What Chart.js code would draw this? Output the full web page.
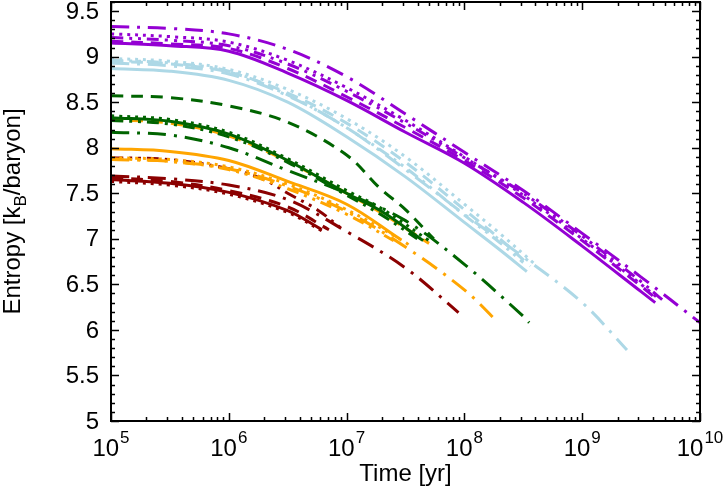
<!DOCTYPE html>
<html>
<head>
<meta charset="utf-8">
<script src="https://cdn.jsdelivr.net/npm/chart.js@4.4.1/dist/chart.umd.min.js"></script>
<style>
  html, body { margin: 0; padding: 0; background: #fff; }
  #wrap { width: 728px; height: 496px; }
</style>
</head>
<body>
<div id="wrap"><canvas id="c" width="728" height="496"></canvas></div>
<script>
// points are [log10(time / yr), entropy]
const violetSolid   = [[5,9.15],[5.5,9.12],[6,9.06],[6.5,8.82],[7,8.52],[7.5,8.17],[8,7.83],[8.5,7.4],[9,6.92],[9.5,6.42],[9.62,6.30]];
const violetDashed  = [[5,9.17],[5.5,9.14],[6,9.09],[6.5,8.87],[7,8.56],[7.5,8.22],[8,7.86],[8.5,7.45],[9,6.98],[9.5,6.48],[9.64,6.33]];
const violetDotted  = [[5,9.25],[5.5,9.22],[6,9.16],[6.5,8.96],[7,8.66],[7.5,8.3],[8,7.9],[8.5,7.48],[9,7.0],[9.5,6.5],[9.66,6.33]];
const violetDDD     = [[5,9.21],[5.5,9.18],[6,9.12],[6.5,8.92],[7,8.62],[7.5,8.27],[8,7.89],[8.5,7.5],[9,7.03],[9.5,6.53],[9.68,6.33]];
const violetDashDot = [[5,9.33],[5.5,9.31],[6,9.25],[6.5,9.08],[7,8.78],[7.5,8.37],[8,7.95],[8.5,7.53],[9,7.06],[9.5,6.58],[10,6.08]];

const blueSolid   = [[5,8.87],[5.5,8.84],[6,8.74],[6.5,8.5],[7,8.12],[7.5,7.68],[8,7.18],[8.3,6.88],[8.53,6.64]];
const blueDotted  = [[5,8.98],[5.5,8.95],[6,8.86],[6.5,8.64],[7,8.32],[7.5,7.9],[8,7.38],[8.3,7.06],[8.6,6.72]];
const blueDashed  = [[5,8.95],[5.5,8.92],[6,8.83],[6.5,8.6],[7,8.27],[7.5,7.84],[8,7.32],[8.3,7.0],[8.56,6.7]];
const blueDDD     = [[5,8.96],[5.5,8.93],[6,8.84],[6.5,8.58],[7,8.22],[7.5,7.78],[8,7.26],[8.3,6.96],[8.5,6.74]];
const blueDashDot = [[5,8.93],[5.5,8.9],[6,8.81],[6.5,8.57],[7,8.22],[7.5,7.76],[8,7.27],[8.5,6.8],[9,6.3],[9.38,5.78]];

const greenDashed  = [[5,8.57],[5.5,8.55],[6,8.46],[6.5,8.28],[7,7.92],[7.28,7.56],[7.5,7.32],[7.74,7.0]];
const greenSolid   = [[5,8.33],[5.5,8.29],[6,8.15],[6.5,7.86],[7,7.5],[7.3,7.3],[7.65,6.98]];
const greenDotted  = [[5,8.35],[5.5,8.31],[6,8.17],[6.5,7.88],[7,7.53],[7.3,7.33],[7.7,6.98]];
const greenDDD     = [[5,8.3],[5.5,8.26],[6,8.12],[6.5,7.84],[7,7.48],[7.3,7.26],[7.6,7.0]];
const greenDashDot = [[5,8.17],[5.5,8.14],[6,8.0],[6.5,7.75],[7,7.5],[7.5,7.2],[8,6.72],[8.5,6.15],[8.55,6.08]];

const orangeDashed  = [[5,8.31],[5.5,8.27],[6,8.13],[6.5,7.85],[7,7.5],[7.3,7.28],[7.7,6.95]];
const orangeSolid   = [[5,7.99],[5.5,7.96],[6,7.86],[6.5,7.63],[7,7.38],[7.45,7.0]];
const orangeDotted  = [[5,7.89],[5.5,7.87],[6,7.79],[6.5,7.6],[7,7.32],[7.5,6.96],[7.55,6.9]];
const orangeDDD     = [[5,7.88],[5.5,7.85],[6,7.76],[6.5,7.55],[7,7.27],[7.4,6.98]];
const orangeDashDot = [[5,7.87],[5.5,7.85],[6,7.77],[6.5,7.58],[7,7.3],[7.5,6.91],[8,6.44],[8.28,6.09]];

const redDDD     = [[5,7.89],[5.5,7.87],[6,7.77],[6.3,7.65],[6.5,7.5],[6.75,7.32],[6.95,7.12]];
const redDashDot = [[5,7.69],[5.5,7.66],[6,7.59],[6.5,7.43],[7,7.08],[7.5,6.68],[7.95,6.19]];
const redSolid   = [[5,7.65],[5.5,7.61],[6,7.51],[6.5,7.31],[6.79,7.1]];
const redDotted  = [[5,7.63],[5.5,7.59],[6,7.49],[6.5,7.29],[6.8,7.08]];
const redDashed  = [[5,7.67],[5.5,7.63],[6,7.53],[6.5,7.35],[6.85,7.1]];

const yTicks = [5, 5.5, 6, 6.5, 7, 7.5, 8, 8.5, 9, 9.5];
const xTickExps = [5, 6, 7, 8, 9, 10];

const DASH = {
  solid: [],
  dashed: [12, 8],
  dotted: [3, 5],
  dashdot: [18, 8, 3, 8],
  ddd: [12, 6, 3, 6, 3, 6]
};

function series(pts, color, dash) {
  return {
    data: pts.map(p => ({ x: Math.pow(10, p[0]), y: p[1] })),
    borderColor: color,
    borderWidth: 3,
    borderDash: DASH[dash],
    borderCapStyle: 'butt',
    pointRadius: 0,
    fill: false,
    tension: 0.35
  };
}

const VIOLET = '#9400d3', BLUE = '#add8e6', GREEN = '#006400', ORANGE = '#ffa500', RED = '#8b0000';

const datasets = [
  series(violetSolid, VIOLET, 'solid'),
  series(violetDashed, VIOLET, 'dashed'),
  series(violetDotted, VIOLET, 'dotted'),
  series(violetDDD, VIOLET, 'ddd'),
  series(violetDashDot, VIOLET, 'dashdot'),
  series(blueSolid, BLUE, 'solid'),
  series(blueDotted, BLUE, 'dotted'),
  series(blueDashed, BLUE, 'dashed'),
  series(blueDDD, BLUE, 'ddd'),
  series(blueDashDot, BLUE, 'dashdot'),
  series(greenDashed, GREEN, 'dashed'),
  series(greenSolid, GREEN, 'solid'),
  series(greenDotted, GREEN, 'dotted'),
  series(greenDDD, GREEN, 'ddd'),
  series(greenDashDot, GREEN, 'dashdot'),
  series(orangeDashed, ORANGE, 'dashed'),
  series(orangeSolid, ORANGE, 'solid'),
  series(orangeDotted, ORANGE, 'dotted'),
  series(orangeDDD, ORANGE, 'ddd'),
  series(orangeDashDot, ORANGE, 'dashdot'),
  series(redDDD, RED, 'ddd'),
  series(redDashDot, RED, 'dashdot'),
  series(redSolid, RED, 'solid'),
  series(redDotted, RED, 'dotted'),
  series(redDashed, RED, 'dashed')
];

const FONT = '"Liberation Sans", Arial, Helvetica, sans-serif';
const BIG = '24px ' + FONT, SMALL = '17px ' + FONT;

// gnuplot-like frame: inward ticks on all sides + labels
const framePlugin = {
  id: 'frame',
  afterDraw(chart) {
    const ctx = chart.ctx;
    const a = chart.chartArea;
    const xs = chart.scales.x, ys = chart.scales.y;
    ctx.save();
    ctx.strokeStyle = '#000';
    ctx.lineWidth = 1.5;
    ctx.beginPath();
    // y ticks (major 0.5, minor 0.1)
    for (let i = 50; i <= 96; i++) {
      const py = Math.round(ys.getPixelForValue(i / 10)) + 0.5;
      const len = (i % 5 === 0) ? 8 : 4;
      ctx.moveTo(a.left, py); ctx.lineTo(a.left + len, py);
      ctx.moveTo(a.right, py); ctx.lineTo(a.right - len, py);
    }
    // x ticks (log)
    for (let e = 5; e <= 10; e++) {
      for (let m = 1; m <= 9; m++) {
        const v = m * Math.pow(10, e);
        if (v > 1e10) break;
        const px = Math.round(xs.getPixelForValue(v)) + 0.5;
        const len = (m === 1) ? 8 : 4;
        ctx.moveTo(px, a.bottom); ctx.lineTo(px, a.bottom - len);
        ctx.moveTo(px, a.top); ctx.lineTo(px, a.top + len);
      }
    }
    ctx.stroke();
    ctx.lineWidth = 2;
    ctx.strokeRect(a.left, a.top, a.right - a.left, a.bottom - a.top);

    ctx.fillStyle = '#000';
    // y labels
    ctx.font = BIG;
    ctx.textAlign = 'right';
    ctx.textBaseline = 'middle';
    yTicks.forEach(v => {
      ctx.fillText(String(v), 99, ys.getPixelForValue(v) + 1);
    });
    // x labels 10^n
    ctx.textAlign = 'left';
    ctx.textBaseline = 'alphabetic';
    xTickExps.forEach(e => {
      ctx.font = BIG;
      const wb = ctx.measureText('10').width;
      ctx.font = SMALL;
      const we = ctx.measureText(String(e)).width;
      const px = xs.getPixelForValue(Math.pow(10, e));
      const x0 = px - (wb + we + 1) / 2;
      ctx.font = BIG;
      ctx.fillText('10', x0, 456);
      ctx.font = SMALL;
      ctx.fillText(String(e), x0 + wb + 1, 443);
    });
    // x title
    ctx.font = BIG;
    ctx.textAlign = 'center';
    ctx.fillText('Time [yr]', (a.left + a.right) / 2, 481);
    // y title with subscript
    ctx.translate(20, (a.top + a.bottom) / 2);
    ctx.rotate(-Math.PI / 2);
    ctx.textAlign = 'left';
    const p1 = 'Entropy [k', p2 = 'B', p3 = '/baryon]';
    ctx.font = BIG;
    const w1 = ctx.measureText(p1).width, w3 = ctx.measureText(p3).width;
    ctx.font = SMALL;
    const w2 = ctx.measureText(p2).width;
    let x = -(w1 + w2 + w3) / 2;
    ctx.font = BIG;
    ctx.fillText(p1, x, 0);
    x += w1;
    ctx.font = SMALL;
    ctx.fillText(p2, x, 6);
    x += w2;
    ctx.font = BIG;
    ctx.fillText(p3, x, 0);
    ctx.restore();
  }
};

new Chart(document.getElementById('c'), {
  type: 'line',
  data: { datasets: datasets },
  options: {
    responsive: false,
    animation: false,
    layout: { padding: { left: 111, right: 28, top: 2, bottom: 75 } },
    plugins: { legend: { display: false }, tooltip: { enabled: false } },
    scales: {
      x: { type: 'logarithmic', min: 1e5, max: 1e10, display: false },
      y: { type: 'linear', min: 5, max: 9.6, display: false }
    }
  },
  plugins: [framePlugin]
});
</script>
</body>
</html>
